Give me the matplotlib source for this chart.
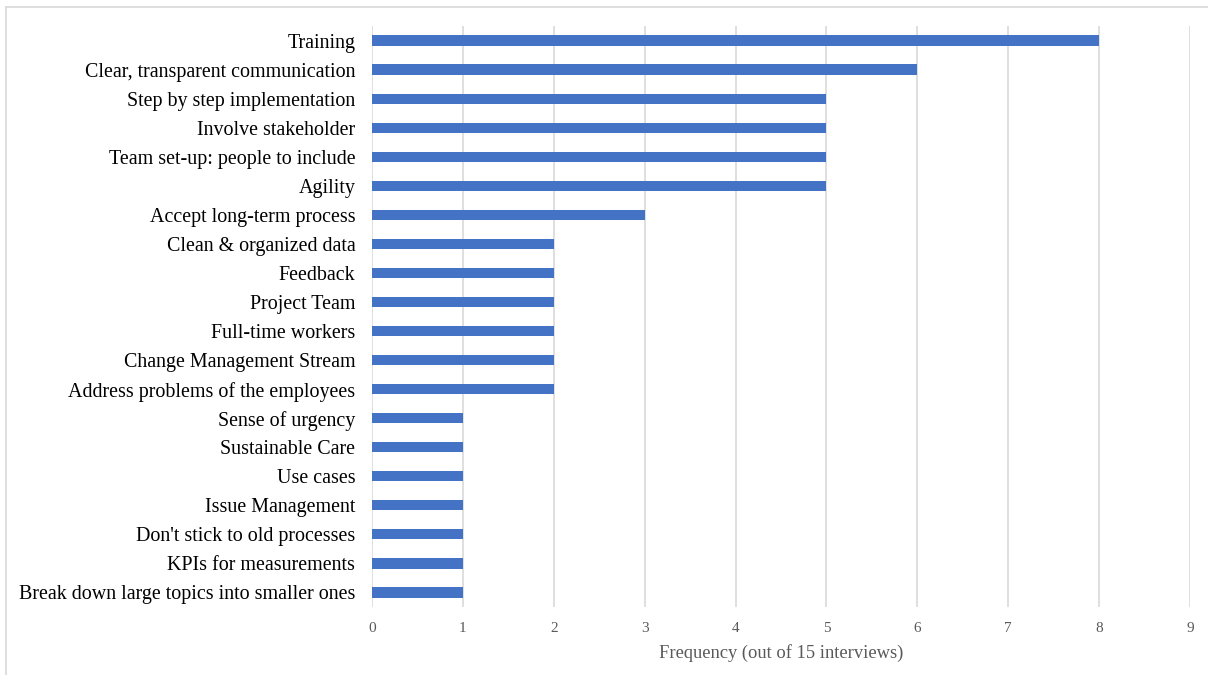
import matplotlib
matplotlib.use("Agg")
import matplotlib.pyplot as plt
from matplotlib.lines import Line2D

categories = [
    "Training",
    "Clear, transparent communication",
    "Step by step implementation",
    "Involve stakeholder",
    "Team set-up: people to include",
    "Agility",
    "Accept long-term process",
    "Clean & organized data",
    "Feedback",
    "Project Team",
    "Full-time workers",
    "Change Management Stream",
    "Address problems of the employees",
    "Sense of urgency",
    "Sustainable Care",
    "Use cases",
    "Issue Management",
    "Don't stick to old processes",
    "KPIs for measurements",
    "Break down large topics into smaller ones",
]
frequency = [8, 6, 5, 5, 5, 5, 3, 2, 2, 2, 2, 2, 2, 1, 1, 1, 1, 1, 1, 1]
x_ticks = list(range(0, 10))
x_label = "Frequency (out of 15 interviews)"

plt.rcParams["font.family"] = ["Liberation Serif", "DejaVu Serif"]

fig = plt.figure(figsize=(12.08, 6.75), dpi=100)
ax = fig.add_axes([372 / 1208, 1 - 607 / 675, (1190 - 372) / 1208, (607 - 26) / 675])

ypos = list(range(len(categories)))
ax.barh(ypos, frequency, height=0.35, color="#4472C4", zorder=3)
ax.set_ylim(len(categories) - 0.5, -0.5)
ax.set_xlim(0, 9)
ax.set_yticks(ypos)
ax.set_yticklabels(categories, fontsize=14.4, color="black")
ax.set_xticks(x_ticks)
ax.set_xticklabels([str(t) for t in x_ticks], fontsize=11, color="#595959")
ax.tick_params(axis="y", length=0, pad=12)
ax.tick_params(axis="x", length=0, pad=11)
ax.set_xlabel(x_label, fontsize=13.3, color="#595959", labelpad=6)
ax.grid(axis="x", color="#D9D9D9", linewidth=1.2, zorder=0)
for s in ax.spines.values():
    s.set_visible(False)

# thin frame lines around the chart area
fig.add_artist(Line2D([6 / 1208, 1], [1 - 7 / 675, 1 - 7 / 675], color="#D9D9D9", linewidth=1.2))
fig.add_artist(Line2D([6 / 1208, 6 / 1208], [0, 1 - 7 / 675], color="#D9D9D9", linewidth=1.2))

fig.savefig("out.png", dpi=100)
